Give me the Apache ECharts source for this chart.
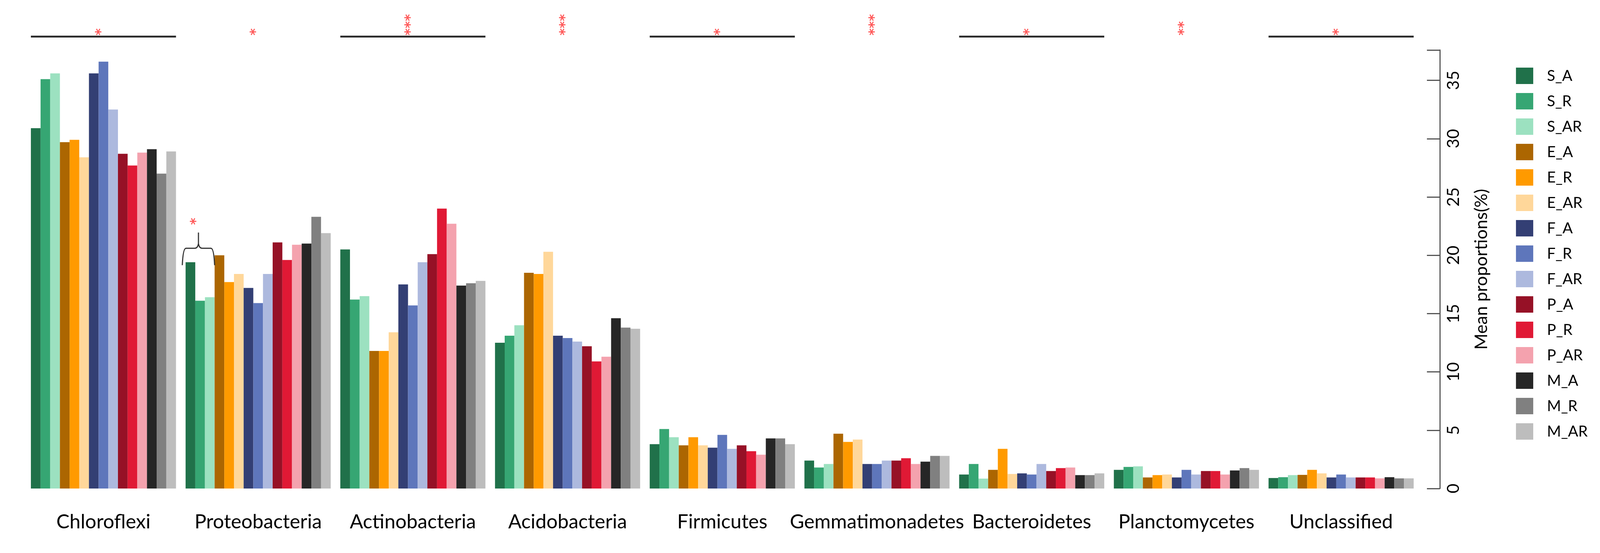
<!DOCTYPE html>
<html>
<head>
<meta charset="utf-8">
<script src="https://cdn.jsdelivr.net/npm/echarts@6/dist/echarts.min.js"></script>
<style>
html,body{margin:0;padding:0;background:#fff;overflow:hidden;}
#chart{position:absolute;left:0;top:0;}
</style>
</head>
<body>
<div id="chart"></div>
<script>
// Categories (phyla) and groups
const phyla = ['Chloroflexi','Proteobacteria','Actinobacteria','Acidobacteria','Firmicutes','Gemmatimonadetes','Bacteroidetes','Planctomycetes','Unclassified'];
const groups = ['S_A','S_R','S_AR','E_A','E_R','E_AR','F_A','F_R','F_AR','P_A','P_R','P_AR','M_A','M_R','M_AR'];
const groupColors = ['#20714a','#36a673','#9ce1c0','#ac6601','#ff9a00','#ffd79a','#333f74','#5e76bb','#adb9de','#961126','#e01935','#f4a2ae','#262626','#808080','#bdbdbd'];

// Mean proportions (%) per phylum, in the order of `groups`
const chloroflexi      = [30.9,35.1,35.6,29.7,29.9,28.4,35.6,36.6,32.5,28.7,27.7,28.8,29.1,27.0,28.9];
const proteobacteria   = [19.4,16.1,16.4,20.0,17.7,18.4,17.2,15.9,18.4,21.1,19.6,20.9,21.0,23.3,21.9];
const actinobacteria   = [20.5,16.2,16.5,11.8,11.8,13.4,17.5,15.7,19.4,20.1,24.0,22.7,17.4,17.6,17.8];
const acidobacteria    = [12.5,13.1,14.0,18.5,18.4,20.3,13.1,12.9,12.6,12.2,10.9,11.3,14.6,13.8,13.7];
const firmicutes       = [3.8,5.1,4.4,3.7,4.4,3.7,3.5,4.6,3.4,3.7,3.2,2.9,4.3,4.3,3.8];
const gemmatimonadetes = [2.4,1.8,2.1,4.7,4.0,4.2,2.1,2.1,2.4,2.4,2.6,2.1,2.3,2.8,2.8];
const bacteroidetes    = [1.2,2.1,0.85,1.6,3.4,1.25,1.3,1.2,2.1,1.5,1.75,1.8,1.15,1.15,1.3];
const planctomycetes   = [1.6,1.85,1.9,0.95,1.15,1.2,0.95,1.6,1.2,1.5,1.5,1.2,1.55,1.75,1.6];
const unclassified     = [0.9,0.97,1.15,1.17,1.6,1.3,0.95,1.2,0.95,0.95,0.95,0.87,0.97,0.87,0.87];

// Significance annotations per phylum
const sigStars = ['*','*','***','***','*','***','*','**','*'];
const sigLine  = [true,false,true,false,true,false,true,false,true];

// Y-axis tick values
const yTicks = [0,5,10,15,20,25,30,35];

const byPhylum = [chloroflexi,proteobacteria,actinobacteria,acidobacteria,firmicutes,gemmatimonadetes,bacteroidetes,planctomycetes,unclassified];

// Layout is designed for 4354x1415 and scaled to the actual viewport.
const W = window.innerWidth || 4354, H = window.innerHeight || 1415;
const sx = W / 4354, sy = H / 1415, sf = Math.sqrt(sx * sy);
const el = document.getElementById('chart');
el.style.width = W + 'px';
el.style.height = H + 'px';

const FONT = 'Lato';
const GAP_FRAC = 0.062;
const Y_MAX = 37.6;
const SIG_LEVEL = 38.75;
const BRACE_CAT = 1, BRACE_BARS = 3;
const BRACE_END = 19.15, BRACE_ARM = 20.6, BRACE_PEAK = 21.95, BRACE_STAR = 22.6;

const chart = echarts.init(el, null, {renderer: 'canvas'});

const barSeries = groups.map((g, gi) => ({
  name: g,
  type: 'bar',
  yAxisIndex: 0,
  data: byPhylum.map(arr => arr[gi]),
  barGap: '0%',
  barCategoryGap: (GAP_FRAC * 100) + '%',
  itemStyle: {color: groupColors[gi]},
  silent: true
}));

function starText(x, y, txt) {
  return {
    type: 'text', x: x, y: y, rotation: Math.PI / 2,
    style: {text: txt, fill: '#ff5a5a', fontSize: 36 * sf, fontFamily: 'DejaVu Sans', fontWeight: 'bold',
            align: 'left', verticalAlign: 'middle'}
  };
}

const sigSeries = {
  type: 'custom',
  silent: true,
  clip: false,
  z: 10,
  yAxisIndex: 0,
  data: phyla.map((p, i) => [i, SIG_LEVEL]),
  encode: {x: 0, y: 1},
  renderItem: function (params, api) {
    const i = api.value(0);
    const c = api.coord([i, SIG_LEVEL]);
    const band = api.size([1, 0])[0];
    const half = band * (1 - GAP_FRAC) / 2;
    const children = [];
    if (sigLine[i]) {
      children.push({type: 'line', shape: {x1: c[0] - half, y1: c[1], x2: c[0] + half, y2: c[1]},
                     style: {stroke: '#2a2a2a', lineWidth: 5 * sf}});
    }
    children.push(starText(c[0] - 5 * sf, c[1] - 3 * sf, sigStars[i]));
    if (i === BRACE_CAT) {
      const barW = band * (1 - GAP_FRAC) / groups.length;
      const left0 = c[0] - half;
      const xL = left0 - 9 * sx, xR = left0 + BRACE_BARS * barW;
      const xc = (xL + xR) / 2;
      const k = 10 * sx, kk = 12 * sy;
      const yE = api.coord([i, BRACE_END])[1];
      const yA = api.coord([i, BRACE_ARM])[1];
      const yP = api.coord([i, BRACE_PEAK])[1];
      const yS = api.coord([i, BRACE_STAR])[1];
      const d = `M${xL},${yE} Q${xL + 2},${yA} ${xL + k},${yA} L${xc - k},${yA} Q${xc - 2},${yA} ${xc},${yA - kk} L${xc},${yP} ` +
                `M${xc},${yA - kk} Q${xc + 2},${yA} ${xc + k},${yA} L${xR - k},${yA} Q${xR - 2},${yA} ${xR},${yE}`;
      children.push({type: 'path', shape: {pathData: d}, style: {stroke: '#333', lineWidth: 3 * sf, fill: null}});
      children.push(starText(xc - 5 * sf, yS, '*'));
    }
    return {type: 'group', children: children};
  }
};

chart.setOption({
  animation: false,
  backgroundColor: '#fff',
  textStyle: {fontFamily: FONT},
  grid: {left: 71 * sx, right: 494 * sx, top: 128 * sy, bottom: 165 * sy, containLabel: false},
  legend: {
    data: groups,
    orient: 'vertical',
    left: 4120 * sx, top: 168 * sy,
    itemWidth: 47 * sx, itemHeight: 42 * sy, itemGap: 23 * sy,
    icon: 'rect',
    selectedMode: false,
    textStyle: {fontSize: 40 * sf, fontFamily: FONT, color: '#000', padding: [0, 0, 0, 32 * sx]}
  },
  xAxis: {
    type: 'category',
    data: phyla,
    axisLine: {show: false},
    axisTick: {show: false},
    axisLabel: {fontSize: 52 * sf, fontFamily: FONT, color: '#000', margin: 61 * sy, interval: 0}
  },
  yAxis: [{
    type: 'value',
    position: 'right',
    offset: 58 * sx,
    min: 0, max: Y_MAX, interval: 5,
    axisLine: {show: true, lineStyle: {color: '#555', width: 3 * sf}},
    axisTick: {show: true, inside: true, length: 35 * sx, lineStyle: {color: '#555', width: 3 * sf}},
    axisLabel: {rotate: 90, margin: 15 * sx, fontSize: 44 * sf, fontFamily: FONT, color: '#000',
      formatter: v => (yTicks.indexOf(v) >= 0 ? String(v) : '')},
    splitLine: {show: false}
  }, {
    // carries only the axis title, so the title is placed independently of the tick labels
    type: 'value',
    position: 'right',
    offset: 58 * sx,
    min: 0, max: Y_MAX, interval: 5,
    name: 'Mean proportions(%)',
    nameLocation: 'middle',
    nameGap: 90 * sx,
    nameRotate: 90,
    nameTextStyle: {fontSize: 46 * sf, fontFamily: FONT, color: '#000'},
    axisLine: {show: false},
    axisTick: {show: false},
    axisLabel: {show: false},
    splitLine: {show: false}
  }],
  series: barSeries.concat([sigSeries])
});
</script>
</body>
</html>
